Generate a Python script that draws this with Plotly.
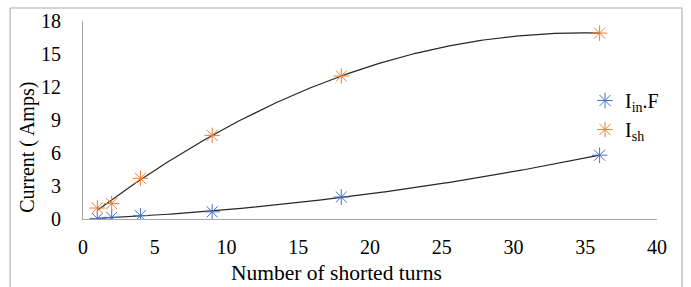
import numpy as np
import plotly.graph_objects as go

turns = [1, 2, 4, 9, 18, 36]
i_in_f = [0.05, 0.15, 0.3, 0.65, 2.0, 5.8]
i_sh = [1.0, 1.4, 3.7, 7.6, 13.0, 16.9]
x_ticks = [0, 5, 10, 15, 20, 25, 30, 35, 40]
y_ticks = [0, 3, 6, 9, 12, 15, 18]
x_title = "Number of shorted turns"
y_title = "Current ( Amps)"

BLUE = "#4472C4"
ORANGE = "#ED7D31"
FONT = "Times New Roman, Liberation Serif, DejaVu Serif, serif"

xs = np.linspace(min(turns), max(turns), 200)
fit_sh = np.polyval(np.polyfit(turns, i_sh, 3), xs)
fit_in = np.polyval(np.polyfit(turns, i_in_f, 2), xs)

fig = go.Figure()
fig.add_trace(go.Scatter(x=xs, y=fit_in, mode="lines", line=dict(color="#262626", width=1.2),
                         showlegend=False, hoverinfo="skip"))
fig.add_trace(go.Scatter(x=xs, y=fit_sh, mode="lines", line=dict(color="#262626", width=1.2),
                         showlegend=False, hoverinfo="skip"))
fig.add_trace(go.Scatter(x=turns, y=i_in_f, mode="markers", name="I<sub>in</sub>.F",
                         marker=dict(symbol="asterisk-open", size=13, color=BLUE,
                                     line=dict(color=BLUE, width=1))))
fig.add_trace(go.Scatter(x=turns, y=i_sh, mode="markers", name="I<sub>sh</sub>",
                         marker=dict(symbol="asterisk-open", size=13, color=ORANGE,
                                     line=dict(color=ORANGE, width=1))))

fig.update_layout(
    width=691, height=287,
    margin=dict(l=83, r=34, t=21, b=68, autoexpand=False),
    paper_bgcolor="white", plot_bgcolor="white",
    font=dict(family=FONT, size=20, color="#000000"),
    legend=dict(x=0.8746, y=0.697, xanchor="left", yanchor="top",
                font=dict(family=FONT, size=20, color="#000000"), bgcolor="rgba(0,0,0,0)",
                itemwidth=30, tracegroupgap=0),
    shapes=[dict(type="rect", xref="paper", yref="paper",
                 x0=-0.127, x1=1.0436, y0=-0.5, y1=1.0657,
                 line=dict(color="#a6a6a6", width=1), layer="below")],
    annotations=[
        dict(text=x_title, xref="paper", yref="paper", x=0.4408, y=-0.273,
             xanchor="center", yanchor="middle", showarrow=False,
             font=dict(family=FONT, size=21.5, color="#000000")),
        dict(text=y_title, xref="paper", yref="paper", x=-0.0958, y=0.36,
             xanchor="center", yanchor="middle", showarrow=False, textangle=-90,
             font=dict(family=FONT, size=20, color="#000000")),
    ],
)
fig.update_xaxes(range=[0, 40], tickvals=x_ticks, showgrid=False, zeroline=False,
                 showline=True, linecolor="#a6a6a6", linewidth=1,
                 ticks="outside", ticklen=10, tickcolor="rgba(0,0,0,0)",
                 tickfont=dict(family=FONT, size=20, color="#000000"), automargin=False)
fig.update_yaxes(range=[0, 18], tickvals=y_ticks, showgrid=False, zeroline=False,
                 showline=True, linecolor="#a6a6a6", linewidth=1,
                 ticks="outside", ticklen=17, tickcolor="rgba(0,0,0,0)",
                 tickfont=dict(family=FONT, size=20, color="#000000"), automargin=False)

fig.write_html("out.html", config={"displayModeBar": False},
               post_script="document.body.style.margin='0';")
